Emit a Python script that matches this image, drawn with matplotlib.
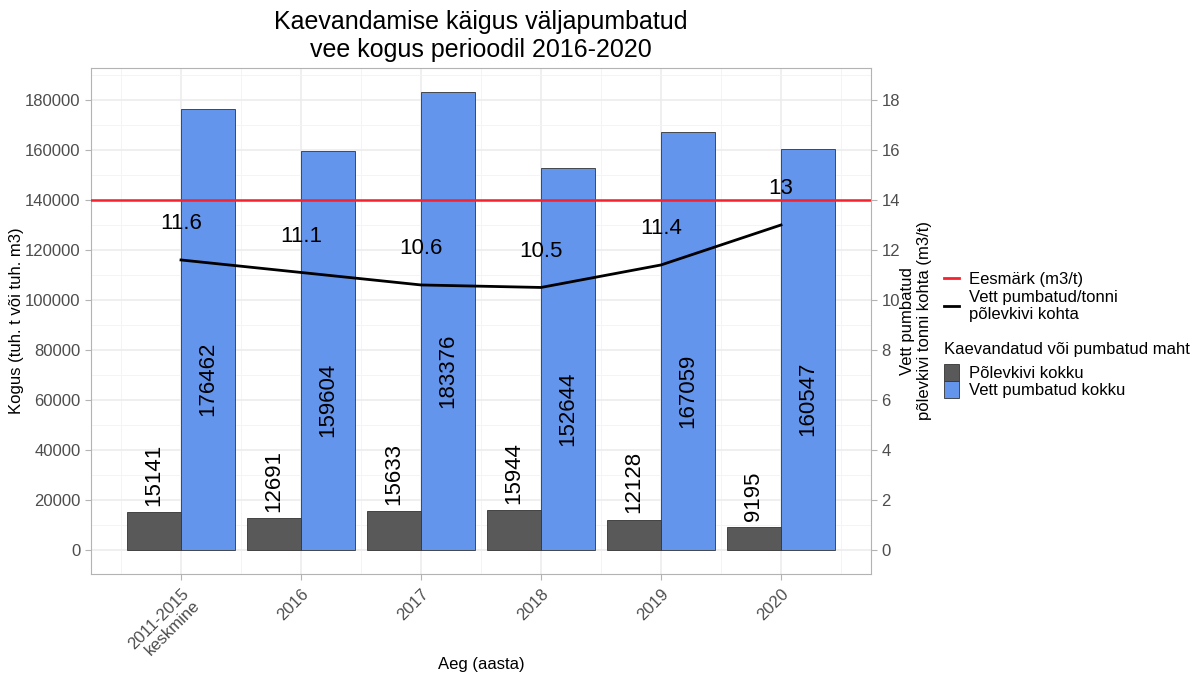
import numpy as np
import matplotlib
matplotlib.use("Agg")
import matplotlib.pyplot as plt
from matplotlib.lines import Line2D
from matplotlib.patches import Patch
from matplotlib.ticker import MultipleLocator

plt.rcParams['font.family'] = ['Liberation Sans', 'DejaVu Sans']

# data
categories = ["2011-2015\nkeskmine", "2016", "2017", "2018", "2019", "2020"]
oil_shale = [15141, 12691, 15633, 15944, 12128, 9195]
water = [176462, 159604, 183376, 152644, 167059, 160547]
ratio = [11.6, 11.1, 10.6, 10.5, 11.4, 13]
target = 14

grey_bar = "#595959"
blue_bar = "#6495ED"
grid_c = "#EBEBEB"
frame_c = "#B3B3B3"
tick_c = "#4D4D4D"

fig = plt.figure(figsize=(11.98, 6.77), dpi=100)
ax = fig.add_axes([91/1198, 1 - 574/677, 780/1198, 506/677])

x = np.arange(len(categories))
w = 0.45
ax.bar(x - w/2, oil_shale, w, color=grey_bar, edgecolor="#333333", linewidth=0.6, zorder=2)
ax.bar(x + w/2, water, w, color=blue_bar, edgecolor="#333333", linewidth=0.6, zorder=2)

for xi, v in zip(x, oil_shale):
    ax.text(xi - w/2, v + 2500, str(v), rotation=90, ha="center", va="bottom",
            fontsize=16, zorder=3)
for xi, v in zip(x, water):
    ax.text(xi + w/2, v/2 - 5000, str(v), rotation=90, ha="center", va="top",
            fontsize=16, zorder=3)

ax.set_xlim(-0.75, len(categories) - 0.25)
ax.set_ylim(-9640, 192800)
ax.yaxis.set_major_locator(MultipleLocator(20000))
ax.yaxis.set_minor_locator(MultipleLocator(10000))
ax.set_xticks(x)
ax.set_xticks(np.r_[-0.5, x + 0.5], minor=True)
ax.set_xticklabels(categories, rotation=45, ha="right", va="top",
                   rotation_mode="anchor", multialignment="right",
                   linespacing=1.1, fontsize=12, color=tick_c)
ax.tick_params(axis="y", labelsize=12, labelcolor=tick_c)
ax.tick_params(axis="x", pad=5)
ax.tick_params(which="major", color=frame_c, length=4, width=0.8)
ax.tick_params(which="minor", length=0)
ax.grid(True, which="major", color=grid_c, linewidth=1.1)
ax.grid(True, which="minor", color="#F4F4F4", linewidth=0.7)
ax.set_axisbelow(True)
for s in ax.spines.values():
    s.set_color(frame_c)
    s.set_linewidth(0.8)

ax.set_xlabel("Aeg (aasta)", fontsize=12)
ax.xaxis.set_label_coords(0.5, -0.164)
ax.set_ylabel("Kogus (tuh. t või tuh. m3)", fontsize=12)
ax.yaxis.set_label_coords(-0.086, 0.5)
ax.set_title("Kaevandamise käigus väljapumbatud\nvee kogus perioodil 2016-2020",
             fontsize=18, pad=8)

ax2 = ax.twinx()
ax2.set_ylim(-0.964, 19.28)
ax2.yaxis.set_major_locator(MultipleLocator(2))
ax2.tick_params(axis="y", labelsize=12, labelcolor=tick_c, color=frame_c, length=4, width=0.8)
for s in ax2.spines.values():
    s.set_visible(False)
ax2.axhline(target, color="#F5222D", linewidth=1.8)
ax2.plot(x, ratio, color="black", linewidth=2)
for xi, r in zip(x, ratio):
    ax2.text(xi, r + 1.45, f"{r:g}", ha="center", va="center", fontsize=16)
ax2.set_ylabel("Vett pumbatud\npõlevkivi tonni kohta (m3/t)", fontsize=12, labelpad=0)

line_handles = [Line2D([], [], color="#F5222D", lw=2),
                Line2D([], [], color="black", lw=2)]
leg1 = fig.legend(line_handles, ["Eesmärk (m3/t)", "Vett pumbatud/tonni\npõlevkivi kohta"],
                  loc="upper left", bbox_to_anchor=(937/1198, 1 - 265/677),
                  frameon=False, fontsize=12, handlelength=0.9, handletextpad=0.6,
                  labelspacing=0.2, borderaxespad=0)
bar_handles = [Patch(facecolor=grey_bar, edgecolor="#333333", lw=0.6),
               Patch(facecolor=blue_bar, edgecolor="#333333", lw=0.6)]
leg2 = fig.legend(bar_handles, ["Põlevkivi kokku", "Vett pumbatud kokku"],
                  title="Kaevandatud või pumbatud maht", title_fontsize=12,
                  loc="upper left", bbox_to_anchor=(937/1198, 1 - 335/677),
                  frameon=False, fontsize=12, handlelength=0.9, handleheight=1.2,
                  handletextpad=0.6, labelspacing=0.0, borderaxespad=0)
leg2._legend_box.align = "left"
leg2._legend_box.sep = 5

fig.savefig("out.png", dpi=100, facecolor="white")
